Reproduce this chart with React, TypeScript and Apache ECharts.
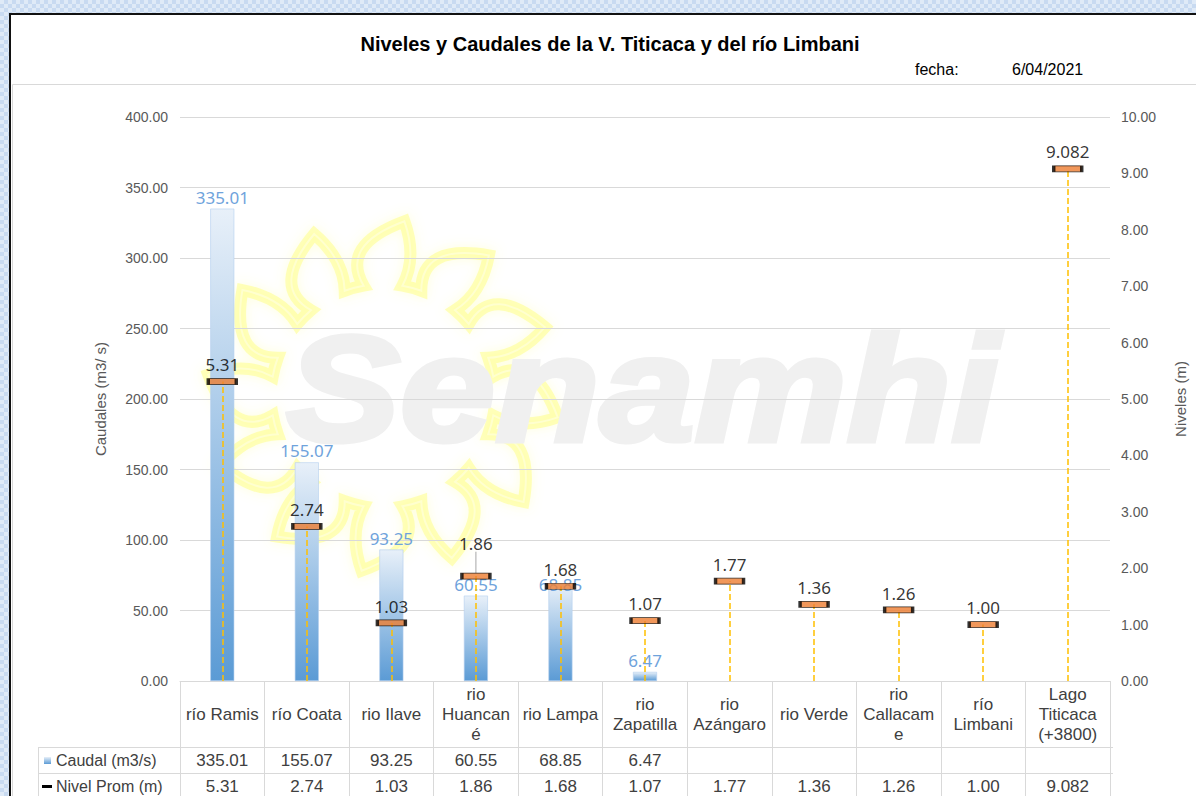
import React, { useEffect, useRef } from "react";
import * as echarts from "echarts";

// ---------- data ----------
const categories = [
  "río Ramis",
  "río Coata",
  "rio Ilave",
  "rio Huancané",
  "rio Lampa",
  "rio Zapatilla",
  "rio Azángaro",
  "rio Verde",
  "rio Callacame",
  "río Limbani",
  "Lago Titicaca (+3800)",
];
// category names as wrapped in the data-table header cells
const headerLabels = [
  "río Ramis",
  "río Coata",
  "rio Ilave",
  "rio\nHuancan\né",
  "rio Lampa",
  "rio\nZapatilla",
  "rio\nAzángaro",
  "rio Verde",
  "rio\nCallacam\ne",
  "río\nLimbani",
  "Lago\nTiticaca\n(+3800)",
];
const caudal: (number | null)[] = [335.01, 155.07, 93.25, 60.55, 68.85, 6.47, null, null, null, null, null];
const nivel: number[] = [5.31, 2.74, 1.03, 1.86, 1.68, 1.07, 1.77, 1.36, 1.26, 1.0, 9.082];
const seriesNames = ["Caudal (m3/s)", "Nivel Prom (m)"];
const caudalAxisRange = { min: 0, max: 400, interval: 50 };
const nivelAxisRange = { min: 0, max: 10, interval: 1 };
const TITLE = "Niveles y Caudales de la V. Titicaca y del río Limbani";
const FECHA_LABEL = "fecha:";
const FECHA = "6/04/2021";
const AXIS_NAMES = ["Caudales (m3/ s)", "Niveles (m)"];

// ---------- layout ----------
const W = 1196;
const H = 796;
const GRID_LEFT = 180;
const GRID_RIGHT_X = 1113;
const GRID_TOP = 117;
const GRID_BOTTOM_Y = 681;
const ROW1_Y = 747;
const ROW2_Y = 773;
const LEG_X = 38;

const TABLE_FONT = '"Liberation Sans", Arial, sans-serif';
const LABEL_FONT = '"Noto Sans", "Open Sans", sans-serif';

const fmt2 = (v: number) => v.toFixed(2);
const fmtNivel = (v: number) =>
  Math.abs(Math.round(v * 100) - v * 100) < 1e-6 ? v.toFixed(2) : v.toFixed(3);

function sunPathData(): string {
  const n = 12;
  const r1 = 112;
  const r2 = 176;
  const deg = Math.PI / 180;
  const p = (r: number, a: number) => `${(r * Math.cos(a)).toFixed(1)} ${(r * Math.sin(a)).toFixed(1)}`;
  let d = "";
  for (let k = 0; k < n; k++) {
    const a0 = -90 * deg + k * (360 / n) * deg;
    const half = 10 * deg;
    const b1 = p(r1, a0 - half);
    const tip = p(r2, a0 + 7 * deg);
    const c1 = p(r1 + 45, a0 - half - 6 * deg);
    const c2 = p(r1 + 30, a0 + half + 4 * deg);
    const b2 = p(r1, a0 + half);
    d += `${k === 0 ? "M" : "L"} ${b1} Q ${c1} ${tip} Q ${c2} ${b2} `;
    const nextA = a0 + (360 / n) * deg - half;
    d += `A ${r1} ${r1} 0 0 1 ${p(r1, nextA)} `;
  }
  return d + "Z";
}

let sunRegistered = false;

export default function App() {
  const ref = useRef<HTMLDivElement>(null);

  useEffect(() => {
    document.body.style.margin = "0";
    if (!ref.current) return;
    if (!sunRegistered) {
      echarts.graphic.registerShape("sunshape", echarts.graphic.extendPath(sunPathData(), {}) as any);
      sunRegistered = true;
    }
    const chart = echarts.init(ref.current, null, { renderer: "svg" });

    const barGradient = new echarts.graphic.LinearGradient(0, 0, 0, 1, [
      { offset: 0, color: "#e8f0f9" },
      { offset: 1, color: "#5b9bd5" },
    ]);

    const option: any = {
      animation: false,
      backgroundColor: "transparent",
      textStyle: { fontFamily: TABLE_FONT },
      grid: {
        left: GRID_LEFT,
        right: W - GRID_RIGHT_X,
        top: GRID_TOP,
        bottom: H - GRID_BOTTOM_Y,
        containLabel: false,
      },
      xAxis: [
        {
          type: "category",
          data: categories,
          position: "bottom",
          axisLine: { show: true, lineStyle: { color: "#d9d9d9", width: 1 } },
          axisTick: { show: true, interval: 0, length: 130, lineStyle: { color: "#d9d9d9" } },
          axisLabel: {
            interval: 0,
            formatter: (_v: string, i: number) => headerLabels[i],
            color: "#404040",
            fontSize: 17,
            lineHeight: 20,
            fontFamily: TABLE_FONT,
            verticalAlign: "middle",
            margin: 33,
          },
          splitLine: { show: false },
        },
        {
          type: "category",
          data: categories,
          position: "bottom",
          offset: 79,
          axisLine: { show: false },
          axisTick: { show: false },
          axisLabel: {
            interval: 0,
            formatter: (_v: string, i: number) => (caudal[i] == null ? "" : fmt2(caudal[i] as number)),
            color: "#404040",
            fontSize: 17,
            fontFamily: TABLE_FONT,
            verticalAlign: "middle",
            margin: 0,
          },
        },
        {
          type: "category",
          data: categories,
          position: "bottom",
          offset: 105,
          axisLine: { show: false },
          axisTick: { show: false },
          axisLabel: {
            interval: 0,
            formatter: (_v: string, i: number) => fmtNivel(nivel[i]),
            color: "#404040",
            fontSize: 17,
            fontFamily: TABLE_FONT,
            verticalAlign: "middle",
            margin: 0,
          },
        },
      ],
      yAxis: [
        {
          type: "value",
          ...caudalAxisRange,
          name: AXIS_NAMES[0],
          nameLocation: "middle",
          nameGap: 72,
          nameRotate: 90,
          nameTextStyle: { color: "#595959", fontSize: 15, fontFamily: TABLE_FONT },
          axisLine: { show: false },
          axisTick: { show: false },
          axisLabel: {
            formatter: (v: number) => fmt2(v),
            color: "#595959",
            fontSize: 14,
            margin: 12,
            fontFamily: TABLE_FONT,
          },
          splitLine: { show: true, lineStyle: { color: "#d9d9d9", width: 1 } },
        },
        {
          type: "value",
          ...nivelAxisRange,
          position: "right",
          name: AXIS_NAMES[1],
          nameLocation: "middle",
          nameGap: 63,
          nameRotate: 90,
          nameTextStyle: { color: "#595959", fontSize: 15, fontFamily: TABLE_FONT },
          axisLine: { show: false },
          axisTick: { show: false },
          axisLabel: {
            formatter: (v: number) => fmt2(v),
            color: "#595959",
            fontSize: 14,
            margin: 11,
            fontFamily: TABLE_FONT,
          },
          splitLine: { show: false },
        },
      ],
      series: [
        {
          name: seriesNames[0],
          type: "bar",
          xAxisIndex: 0,
          yAxisIndex: 0,
          barWidth: 24,
          z: 2,
          data: caudal.map((v, i) =>
            i === 4 ? { value: v, label: { offset: [0, 12] } } : v
          ),
          itemStyle: { color: barGradient, borderColor: "#b4cfee", borderWidth: 0.6 },
          label: {
            show: true,
            position: "top",
            distance: 3,
            color: "#6fa3dc",
            fontSize: 17,
            fontFamily: LABEL_FONT,
            formatter: (p: any) => (p.value == null ? "" : fmt2(p.value)),
          },
        },
        {
          name: seriesNames[1],
          type: "scatter",
          xAxisIndex: 0,
          yAxisIndex: 1,
          z: 5,
          symbol: "rect",
          symbolSize: [28, 6],
          data: nivel.map((v, i) =>
            i === 3
              ? {
                  value: v,
                  label: { offset: [0, -16] },
                  labelLine: { show: true, lineStyle: { color: "#a6a6a6", width: 1 } },
                }
              : v
          ),
          itemStyle: { color: "#ed7d31", borderColor: "#000000", borderWidth: 1.6 },
          label: {
            show: true,
            position: "top",
            distance: 5,
            color: "#000000",
            fontSize: 17,
            fontFamily: LABEL_FONT,
            formatter: (p: any) => fmtNivel(p.value),
          },
          markLine: {
            silent: true,
            symbol: ["none", "none"],
            label: { show: false },
            lineStyle: { type: "dashed", color: "#ffc000", width: 1.5 },
            data: nivel.map((v, i) => [
              { coord: [categories[i], 0] },
              { coord: [categories[i], v] },
            ]),
          },
        },
      ],
    };
    chart.setOption(option);

    const graphic: any[] = [
      // white chart frame
      {
        type: "rect",
        z: -10,
        silent: true,
        shape: { x: 10, y: 14, width: 1250, height: 850 },
        style: { fill: "#ffffff", stroke: "#111111", lineWidth: 2 },
      },
      // inner light box
      {
        type: "rect",
        z: -9,
        silent: true,
        shape: { x: 12.5, y: 84.5, width: 1250, height: 850 },
        style: { fill: "none", stroke: "#d9d9d9", lineWidth: 1 },
      },
      // watermark sun (soft glow + pale core)
      {
        type: "sunshape",
        z: -8,
        silent: true,
        x: 383,
        y: 396,
        style: {
          fill: "none",
          stroke: "rgba(255,255,80,0.35)",
          lineWidth: 12,
          shadowBlur: 12,
          shadowColor: "rgba(255,255,100,0.6)",
        },
      },
      {
        type: "sunshape",
        z: -8,
        silent: true,
        x: 383,
        y: 396,
        style: {
          fill: "none",
          stroke: "rgba(255,255,210,0.9)",
          lineWidth: 2,
        },
      },
      // watermark text
      {
        type: "text",
        z: -7,
        silent: true,
        x: 286,
        y: 464,
        scaleX: 1.14,
        style: {
          text: "Senamhi",
          fill: "#f0f0f0",
          stroke: "#f0f0f0",
          lineWidth: 5,
          font: 'italic bold 150px "Liberation Sans", Arial, sans-serif',
          verticalAlign: "bottom",
          align: "left",
        },
      },
      // title
      {
        type: "text",
        x: 610,
        y: 44,
        style: {
          text: TITLE,
          fill: "#000000",
          font: 'bold 20px "Liberation Sans", Arial, sans-serif',
          align: "center",
          verticalAlign: "middle",
        },
      },
      {
        type: "text",
        x: 915,
        y: 69,
        style: {
          text: FECHA_LABEL,
          fill: "#000000",
          font: '16px "Liberation Sans", Arial, sans-serif',
          align: "left",
          verticalAlign: "middle",
        },
      },
      {
        type: "text",
        x: 1012,
        y: 69,
        style: {
          text: FECHA,
          fill: "#000000",
          font: '16px "Liberation Sans", Arial, sans-serif',
          align: "left",
          verticalAlign: "middle",
        },
      },
      // data table lines
      {
        type: "line",
        silent: true,
        shape: { x1: LEG_X, y1: ROW1_Y + 0.5, x2: GRID_RIGHT_X, y2: ROW1_Y + 0.5 },
        style: { stroke: "#d9d9d9", lineWidth: 1 },
      },
      {
        type: "line",
        silent: true,
        shape: { x1: LEG_X, y1: ROW2_Y + 0.5, x2: GRID_RIGHT_X, y2: ROW2_Y + 0.5 },
        style: { stroke: "#d9d9d9", lineWidth: 1 },
      },
      {
        type: "line",
        silent: true,
        shape: { x1: LEG_X + 0.5, y1: ROW1_Y, x2: LEG_X + 0.5, y2: H + 5 },
        style: { stroke: "#d9d9d9", lineWidth: 1 },
      },
      {
        type: "line",
        silent: true,
        shape: { x1: GRID_LEFT + 0.5, y1: GRID_BOTTOM_Y, x2: GRID_LEFT + 0.5, y2: H + 5 },
        style: { stroke: "#d9d9d9", lineWidth: 1 },
      },
      // legend keys in table
      {
        type: "rect",
        silent: true,
        shape: { x: 44, y: 757, width: 7, height: 7 },
        style: { fill: barGradient },
      },
      {
        type: "text",
        x: 56,
        y: 760,
        style: {
          text: seriesNames[0],
          fill: "#404040",
          font: '16px "Liberation Sans", Arial, sans-serif',
          align: "left",
          verticalAlign: "middle",
        },
      },
      {
        type: "rect",
        silent: true,
        shape: { x: 42, y: 785, width: 10, height: 3 },
        style: { fill: "#000000" },
      },
      {
        type: "text",
        x: 56,
        y: 786,
        style: {
          text: seriesNames[1],
          fill: "#404040",
          font: '16px "Liberation Sans", Arial, sans-serif',
          align: "left",
          verticalAlign: "middle",
        },
      },
    ];
    chart.setOption({ graphic });

    return () => chart.dispose();
  }, []);

  return (
    <div
      style={{
        width: W,
        height: H,
        overflow: "hidden",
        background:
          "repeating-conic-gradient(#c8daf1 0% 25%, #dfeaf7 0% 50%) 0 0 / 8px 8px",
      }}
    >
      <div ref={ref} style={{ width: W, height: H }} />
    </div>
  );
}
